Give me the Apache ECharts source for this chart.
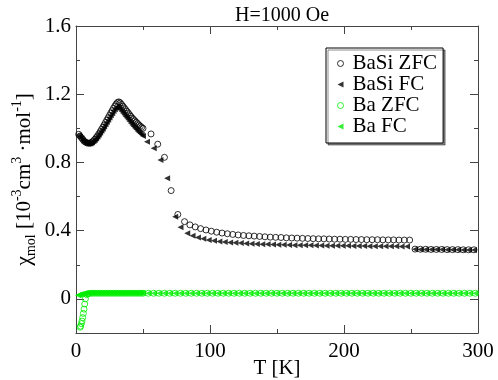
<!DOCTYPE html>
<html>
<head>
    <meta charset="utf-8" />
    <title>ECharts</title>
    <script src="https://cdn.jsdelivr.net/npm/echarts@6/dist/echarts.min.js"></script>
</head>
<body style="margin:0">
    <div id="main" style="width: 498px;height:380px;"></div>
    <script type="text/javascript">
        // [T (K), chi] pairs
        const basiZfc = [
            [2, 0.965], [3, 0.955], [4, 0.945], [5, 0.935], [6, 0.925], [7, 0.92], [8, 0.915], [9, 0.913],
            [10, 0.913], [11, 0.915], [12, 0.92], [13, 0.927], [14, 0.935], [15, 0.945], [16, 0.955],
            [17, 0.967], [18, 0.98], [19, 0.993], [20, 1.006], [21, 1.02], [22, 1.034], [23, 1.048],
            [24, 1.062], [25, 1.076], [26, 1.09], [27, 1.104], [28, 1.118], [29, 1.131], [30, 1.143],
            [31, 1.152], [32, 1.155], [33, 1.15], [34, 1.14], [35, 1.13], [36, 1.12], [37, 1.11],
            [38, 1.1], [39, 1.09], [40, 1.08], [41, 1.07], [42, 1.06], [43, 1.052], [44, 1.044],
            [45, 1.036], [46, 1.028], [47, 1.02], [48, 1.013], [49, 1.006], [50, 1.0],
            [56, 0.967], [61, 0.907], [66, 0.83], [71, 0.635], [76, 0.495], [81, 0.453], [85, 0.434],
            [89, 0.422], [93, 0.412], [97, 0.404], [101, 0.397], [105, 0.391], [109, 0.386], [113, 0.382],
            [117, 0.378], [121, 0.375], [125, 0.372], [129, 0.37], [133, 0.368], [137, 0.366], [141, 0.364],
            [145, 0.362], [149, 0.361], [153, 0.36], [157, 0.358], [161, 0.357], [165, 0.356], [169, 0.355],
            [173, 0.354], [177, 0.353], [181, 0.352], [185, 0.352], [189, 0.351], [193, 0.35], [197, 0.35],
            [201, 0.349], [205, 0.349], [209, 0.348], [213, 0.348], [217, 0.347], [221, 0.347], [225, 0.347],
            [229, 0.346], [233, 0.346], [237, 0.346], [241, 0.345], [245, 0.345], [249, 0.345],
            [253, 0.292], [257, 0.291], [261, 0.291], [265, 0.29], [269, 0.29], [273, 0.29], [277, 0.289],
            [281, 0.289], [285, 0.289], [289, 0.288], [293, 0.288], [297, 0.288]
        ];
        const basiFc = [
            [2, 0.96], [3, 0.95], [4, 0.94], [5, 0.93], [6, 0.922], [7, 0.916], [8, 0.912], [9, 0.91],
            [10, 0.91], [11, 0.912], [12, 0.917], [13, 0.924], [14, 0.932], [15, 0.941], [16, 0.951],
            [17, 0.962], [18, 0.974], [19, 0.986], [20, 0.998], [21, 1.011], [22, 1.024], [23, 1.037],
            [24, 1.05], [25, 1.063], [26, 1.076], [27, 1.089], [28, 1.101], [29, 1.112], [30, 1.121],
            [31, 1.125], [32, 1.12], [33, 1.11], [34, 1.1], [35, 1.09], [36, 1.08], [37, 1.07],
            [38, 1.06], [39, 1.05], [40, 1.04], [41, 1.03], [42, 1.02], [43, 1.011], [44, 1.002],
            [45, 0.993], [46, 0.985], [47, 0.977], [48, 0.969], [49, 0.962], [50, 0.955],
            [53, 0.922], [58, 0.883], [63, 0.815], [68, 0.707], [74, 0.482], [78, 0.42], [83, 0.385],
            [87, 0.37], [91, 0.36], [95, 0.352], [99, 0.346], [103, 0.341], [107, 0.337], [111, 0.334],
            [115, 0.331], [119, 0.329], [123, 0.327], [127, 0.325], [131, 0.323], [135, 0.322], [139, 0.321],
            [143, 0.32], [147, 0.319], [151, 0.318], [155, 0.317], [159, 0.316], [163, 0.315], [167, 0.315],
            [171, 0.314], [175, 0.314], [179, 0.313], [183, 0.313], [187, 0.312], [191, 0.312], [195, 0.312],
            [199, 0.311], [203, 0.311], [207, 0.31], [211, 0.31], [215, 0.31], [219, 0.309], [223, 0.309],
            [227, 0.309], [231, 0.308], [235, 0.308], [239, 0.308], [243, 0.307], [247, 0.307],
            [253, 0.291], [257, 0.29], [261, 0.29], [265, 0.289], [269, 0.289], [273, 0.289], [277, 0.288],
            [281, 0.288], [285, 0.288], [289, 0.287], [293, 0.287], [297, 0.287]
        ];
        const baZfc = [
            [3, -0.166], [3.5, -0.16], [4, -0.145], [4.5, -0.13], [5, -0.11], [5.5, -0.085], [6, -0.06],
            [6.5, -0.03], [7, 0.0], [8, 0.025], [9, 0.03], [10, 0.032], [12, 0.033], [14, 0.033], [16, 0.033],
            [18, 0.033], [20, 0.033], [22, 0.033], [24, 0.033], [26, 0.033], [28, 0.033], [30, 0.033],
            [32, 0.033], [34, 0.033], [36, 0.033], [38, 0.033], [40, 0.033], [42, 0.033], [44, 0.033],
            [46, 0.033], [48, 0.033], [50, 0.033],
            [54, 0.033], [58, 0.033], [62, 0.033], [66, 0.033], [70, 0.033], [74, 0.033], [78, 0.033],
            [82, 0.033], [86, 0.033], [90, 0.033], [94, 0.033], [98, 0.033], [102, 0.033], [106, 0.033],
            [110, 0.033], [114, 0.033], [118, 0.033], [122, 0.033], [126, 0.033], [130, 0.033], [134, 0.033],
            [138, 0.033], [142, 0.033], [146, 0.033], [150, 0.033], [154, 0.033], [158, 0.033], [162, 0.033],
            [166, 0.033], [170, 0.033], [174, 0.033], [178, 0.033], [182, 0.033], [186, 0.033], [190, 0.033],
            [194, 0.033], [198, 0.033], [202, 0.033], [206, 0.033], [210, 0.033], [214, 0.033], [218, 0.033],
            [222, 0.033], [226, 0.033], [230, 0.033], [234, 0.033], [238, 0.033], [242, 0.033], [246, 0.033],
            [250, 0.033], [254, 0.033], [258, 0.033], [262, 0.033], [266, 0.033], [270, 0.033], [274, 0.033],
            [278, 0.033], [282, 0.033], [286, 0.033], [290, 0.033], [294, 0.033], [298, 0.033]
        ];
        const baFc = [
            [1.5, 0.022], [2, 0.023], [2.5, 0.025], [3, 0.026], [4, 0.028], [5, 0.03], [6, 0.031], [7, 0.032],
            [8, 0.033], [9, 0.034], [10, 0.034], [11, 0.034], [12, 0.034], [13, 0.034], [14, 0.034],
            [15, 0.034], [16, 0.034], [17, 0.034], [18, 0.034], [19, 0.034], [20, 0.034], [21, 0.034],
            [22, 0.034], [23, 0.034], [24, 0.034], [25, 0.034], [26, 0.034], [27, 0.034], [28, 0.034],
            [29, 0.034], [30, 0.034], [31, 0.034], [32, 0.034], [33, 0.034], [34, 0.034], [35, 0.034],
            [36, 0.034], [37, 0.034], [38, 0.034], [39, 0.034], [40, 0.034], [41, 0.034], [42, 0.034],
            [43, 0.034], [44, 0.034], [45, 0.034], [46, 0.034], [47, 0.034], [48, 0.034], [49, 0.034], [50, 0.034],
            [54, 0.033], [58, 0.033], [62, 0.033], [66, 0.033], [70, 0.033], [74, 0.033], [78, 0.033],
            [82, 0.033], [86, 0.033], [90, 0.033], [94, 0.033], [98, 0.033], [102, 0.033], [106, 0.033],
            [110, 0.033], [114, 0.033], [118, 0.033], [122, 0.033], [126, 0.033], [130, 0.033], [134, 0.033],
            [138, 0.033], [142, 0.033], [146, 0.033], [150, 0.033], [154, 0.033], [158, 0.033], [162, 0.033],
            [166, 0.033], [170, 0.033], [174, 0.033], [178, 0.033], [182, 0.033], [186, 0.033], [190, 0.033],
            [194, 0.033], [198, 0.033], [202, 0.033], [206, 0.033], [210, 0.033], [214, 0.033], [218, 0.033],
            [222, 0.033], [226, 0.033], [230, 0.033], [234, 0.033], [238, 0.033], [242, 0.033], [246, 0.033],
            [250, 0.033], [254, 0.033], [258, 0.033], [262, 0.033], [266, 0.033], [270, 0.033], [274, 0.033],
            [278, 0.033], [282, 0.033], [286, 0.033], [290, 0.033], [294, 0.033], [298, 0.033]
        ];
        const seriesNames = ['BaSi ZFC', 'BaSi FC', 'Ba ZFC', 'Ba FC'];
        const yMajor = [0, 0.4, 0.8, 1.2, 1.6];

        const serif = 'Liberation Serif';
        const axisColor = '#444';
        const green = '#00ee00';
        const triLeft = 'path://M10,0 L0,5 L10,10 Z';

        let myChart = echarts.init(document.getElementById('main'));

        function openCircle(name, data, color) {
            return {
                name: name, type: 'scatter', data: data,
                symbol: 'circle', symbolSize: 6,
                itemStyle: { color: 'transparent', borderColor: color, borderWidth: 1 }
            };
        }
        function leftTriangle(name, data, color) {
            return {
                name: name, type: 'scatter', data: data,
                symbol: triLeft, symbolSize: [6, 6],
                itemStyle: { color: color }
            };
        }

        // minor ticks axis + major ticks axis per side
        function yAx(pos, major, withName) {
            let a = {
                type: 'value', position: pos, min: -0.2, max: 1.6,
                splitLine: { show: false },
                axisLine: { show: !major, onZero: false, lineStyle: { color: axisColor } },
                axisTick: { show: true, inside: true, length: major ? 8 : 4, lineStyle: { color: axisColor } },
                axisLabel: { show: false }
            };
            if (major) {
                a.axisTick.customValues = yMajor;
                if (pos === 'left') {
                    a.axisLabel = { show: true, customValues: yMajor, color: '#000', fontFamily: serif, fontSize: 21, margin: 5 };
                }
            } else {
                a.interval = 0.2;
            }
            if (withName) {
                a.name = '{g|χ}{sub|mol}{n| [10}{sup|-3}{n|cm}{sup|3}{n| ·mol}{sup|-1}{n|]}';
                a.nameLocation = 'middle';
                a.nameGap = 38;
                a.nameMoveOverlap = false;
                a.nameTextStyle = {
                    color: '#000', fontFamily: serif,
                    rich: {
                        g: { fontFamily: serif, fontSize: 22, color: '#000', lineHeight: 28 },
                        n: { fontFamily: serif, fontSize: 21, color: '#000', lineHeight: 28 },
                        sub: { fontFamily: serif, fontSize: 14, color: '#000', lineHeight: 12, verticalAlign: 'bottom' },
                        sup: { fontFamily: serif, fontSize: 14, color: '#000', lineHeight: 12, verticalAlign: 'top' }
                    }
                };
            }
            return a;
        }
        function xAx(pos, withLabels) {
            let a = {
                type: 'value', position: pos, min: 0, max: 300, interval: 100,
                splitLine: { show: false },
                axisLine: { show: true, onZero: false, lineStyle: { color: axisColor } },
                axisTick: { show: true, inside: true, length: 8, lineStyle: { color: axisColor } },
                minorTick: { show: true, splitNumber: 2, length: 4, lineStyle: { color: axisColor } },
                axisLabel: { show: withLabels, color: '#000', fontFamily: serif, fontSize: 21, margin: 8 }
            };
            if (withLabels) {
                a.name = 'T [K]';
                a.nameLocation = 'middle';
                a.nameGap = 25;
                a.nameMoveOverlap = false;
                a.nameTextStyle = { color: '#000', fontFamily: serif, fontSize: 21 };
            }
            return a;
        }

        let option = {
            animation: false,
            backgroundColor: '#fff',
            title: {
                text: 'H=1000 Oe', left: 277, top: 1, textAlign: 'center',
                textStyle: { fontFamily: serif, fontSize: 20, fontWeight: 'normal', color: '#000' }
            },
            grid: { left: 76, right: 20, top: 26, bottom: 47, outerBoundsMode: 'none' },
            legend: {
                data: [
                    { name: seriesNames[0], icon: 'circle', itemStyle: { color: 'transparent', borderColor: '#000', borderWidth: 1 } },
                    { name: seriesNames[1], icon: triLeft },
                    { name: seriesNames[2], icon: 'circle', itemStyle: { color: 'transparent', borderColor: green, borderWidth: 1 } },
                    { name: seriesNames[3], icon: triLeft }
                ],
                orient: 'vertical', left: 326, top: 48,
                itemWidth: 6, itemHeight: 6, itemGap: 0,
                padding: [5, 6, 6, 11],
                borderColor: '#000', borderWidth: 1, backgroundColor: '#fff',
                shadowColor: 'rgba(0,0,0,0.45)', shadowOffsetX: 2, shadowOffsetY: 2, shadowBlur: 0,
                textStyle: { fontFamily: serif, fontSize: 21, color: '#000', padding: [0, 0, 0, 4] }
            },
            xAxis: [xAx('bottom', true), xAx('top', false)],
            yAxis: [yAx('left', false, true), yAx('left', true, false), yAx('right', false, false), yAx('right', true, false)],
            series: [
                openCircle(seriesNames[0], basiZfc, '#000'),
                leftTriangle(seriesNames[1], basiFc, '#000'),
                openCircle(seriesNames[2], baZfc, green),
                leftTriangle(seriesNames[3], baFc, green)
            ]
        };
        myChart.setOption(option);
    </script>
</body>
</html>
